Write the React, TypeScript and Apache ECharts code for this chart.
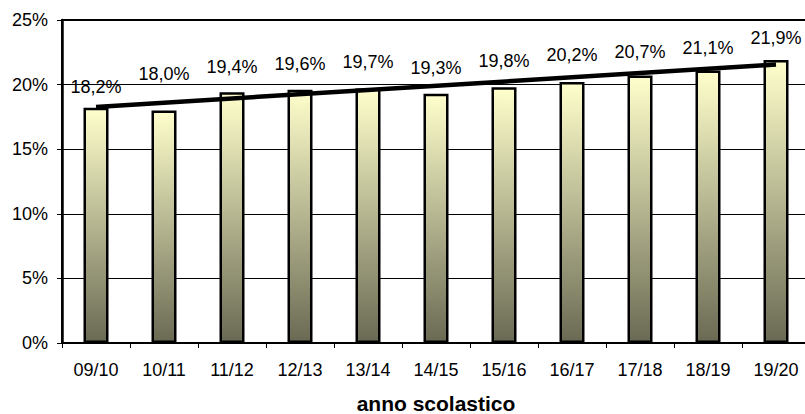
import React, { useEffect, useRef } from "react";
import * as echarts from "echarts";

const categories = ["09/10", "10/11", "11/12", "12/13", "13/14", "14/15", "15/16", "16/17", "17/18", "18/19", "19/20"];
const shares = [18.2, 18.0, 19.4, 19.6, 19.7, 19.3, 19.8, 20.2, 20.7, 21.1, 21.9];
// trend line end values (first and last category)
const trendEnds = [18.27, 21.55];
const yTicks = [0, 5, 10, 15, 20, 25];

// label gaps above bars (styling only)
const labelGaps = [12, 27, 16, 17, 17, 17, 17, 18, 15, 13, 13];

const FONT = "'Liberation Sans', Arial, sans-serif";

export default function App() {
  const ref = useRef<HTMLDivElement>(null);
  useEffect(() => {
    if (!ref.current) return;
    const chart = echarts.init(ref.current, undefined, { renderer: "svg" });
    const fmt = (v: number) => v.toFixed(1).replace(".", ",") + "%";
    chart.setOption({
      animation: false,
      textStyle: { fontFamily: FONT },
      grid: {
        left: 62,
        right: -5,
        top: 20,
        bottom: 71,
        outerBoundsMode: "none",
        containLabel: false,
        show: true,
        borderColor: "#000",
        borderWidth: 2,
        backgroundColor: "transparent",
      },
      xAxis: {
        type: "category",
        data: categories,
        name: "anno scolastico",
        nameLocation: "middle",
        nameGap: 50,
        nameTextStyle: { fontFamily: FONT, fontSize: 21, fontWeight: "bold", color: "#000" },
        axisLine: { lineStyle: { color: "#000", width: 2 } },
        axisTick: { show: true, length: 5, lineStyle: { color: "#000", width: 1 } },
        axisLabel: { fontFamily: FONT, fontSize: 18, color: "#000", margin: 18 },
      },
      yAxis: {
        type: "value",
        min: yTicks[0],
        max: yTicks[yTicks.length - 1],
        interval: 5,
        axisLine: { show: true, lineStyle: { color: "#000", width: 2.5 } },
        axisTick: { show: true, length: 5, lineStyle: { color: "#000", width: 1 } },
        axisLabel: {
          fontFamily: FONT,
          fontSize: 18,
          color: "#000",
          margin: 14,
          formatter: (v: number) => v + "%",
        },
        splitLine: { show: true, lineStyle: { color: "#000", width: 1 } },
      },
      series: [
        {
          type: "bar",
          data: shares.map((v, i) => ({
            value: v,
            label: { distance: labelGaps[i] },
          })),
          barWidth: 25,
          itemStyle: {
            color: new echarts.graphic.LinearGradient(0, 0, 0, 1, [
              { offset: 0, color: "#FFFFCC" },
              { offset: 1, color: "#6A6A54" },
            ]),
            borderColor: "#000",
            borderWidth: 2.5,
          },
          label: {
            show: true,
            position: "top",
            fontFamily: FONT,
            fontSize: 18,
            color: "#000",
            formatter: (p: any) => fmt(p.value),
          },
          z: 2,
        },
        {
          type: "line",
          data: [
            [categories[0], trendEnds[0]],
            [categories[categories.length - 1], trendEnds[1]],
          ],
          symbol: "none",
          lineStyle: { color: "#000", width: 4.5 },
          z: 3,
        },
      ],
    });
    return () => chart.dispose();
  }, []);
  return (
    <div
      ref={ref}
      style={{ position: "fixed", left: 0, top: 0, width: 805, height: 414, background: "#fff" }}
    />
  );
}
